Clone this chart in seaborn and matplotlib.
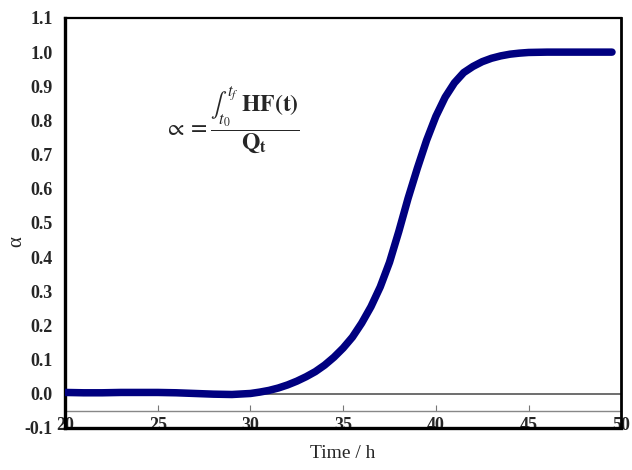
import matplotlib
matplotlib.use("Agg")
import matplotlib.pyplot as plt
import seaborn as sns
import pandas as pd

time_h = [20, 21, 22, 23, 24, 25, 26, 27, 28, 29, 30, 30.5, 31, 31.5, 32, 32.5,
          33, 33.5, 34, 34.5, 35, 35.5, 36, 36.5, 37, 37.5, 38, 38.5, 39, 39.5,
          40, 40.5, 41, 41.5, 42, 42.5, 43, 43.5, 44, 44.5, 45, 46, 47, 48, 49, 49.5]
alpha = [0.004, 0.003, 0.003, 0.004, 0.004, 0.004, 0.003, 0.001, -0.001, -0.002,
         0.001, 0.005, 0.010, 0.017, 0.026, 0.037, 0.050, 0.065, 0.084, 0.107,
         0.134, 0.166, 0.207, 0.255, 0.313, 0.385, 0.475, 0.572, 0.660, 0.742,
         0.812, 0.868, 0.910, 0.940, 0.958, 0.972, 0.982, 0.989, 0.994, 0.997,
         0.999, 1.0, 1.0, 1.0, 1.0, 1.0]
x_ticks = [20, 25, 30, 35, 40, 45, 50]
y_ticks = [-0.1, 0.0, 0.1, 0.2, 0.3, 0.4, 0.5, 0.6, 0.7, 0.8, 0.9, 1.0, 1.1]

sns.set_style("white")
plt.rcParams['mathtext.fontset'] = 'stix'
serif = ['Liberation Serif', 'DejaVu Serif']

df = pd.DataFrame({"Time": time_h, "alpha": alpha})

fig = plt.figure(figsize=(6.32, 4.70), dpi=100)
ax = fig.add_axes([0.103, 0.0894, 0.880, 0.8724])

ax.axhline(0.0, color='#555555', lw=1.2, zorder=1)

sns.lineplot(data=df, x="Time", y="alpha", ax=ax, color='#000080', lw=5.4,
             solid_capstyle='round', zorder=3)

ax.set_xlim(20, 50)
ax.set_ylim(-0.1, 1.1)

ax.set_yticks(y_ticks)
ax.set_yticklabels([f"{v:.1f}" for v in y_ticks], fontfamily=serif,
                   fontweight='bold', fontsize=13)
ax.tick_params(axis='y', direction='in', length=4, width=0.8, color='#555555', pad=9)

ax.set_xticks(x_ticks)
ax.set_xticklabels([str(v) for v in x_ticks], fontfamily=serif,
                   fontweight='bold', fontsize=13)
ax.tick_params(axis='x', direction='in', length=0, pad=-8)

# secondary axis line at -0.05 with upward ticks
sec = ax.secondary_xaxis(0.05 / 1.2)
sec.set_xticks(x_ticks[1:-1])
sec.tick_params(axis='x', direction='in', length=4, width=0.8, color='#777777',
                labelbottom=False)
sec.spines['bottom'].set_color('#888888')
sec.spines['bottom'].set_linewidth(1.0)

for side, lw in [('left', 2.4), ('bottom', 2.4), ('top', 1.6), ('right', 2.0)]:
    ax.spines[side].set_visible(True)
    ax.spines[side].set_color('black')
    ax.spines[side].set_linewidth(lw)

ax.set_xlabel("Time / h", fontfamily=serif, fontsize=14, labelpad=8)
ax.set_ylabel(r"α", fontfamily=serif, fontsize=15)
ax.yaxis.set_label_coords(-0.069, 0.455)

ax.text(29.0, 0.80,
        r"$\propto = \dfrac{\int_{t_0}^{t_f}\ \mathbf{HF(t)}}{\mathbf{Q_t}}$",
        fontsize=17, ha='center', va='center')

ax.grid(False)
fig.savefig("out.png", dpi=100)
